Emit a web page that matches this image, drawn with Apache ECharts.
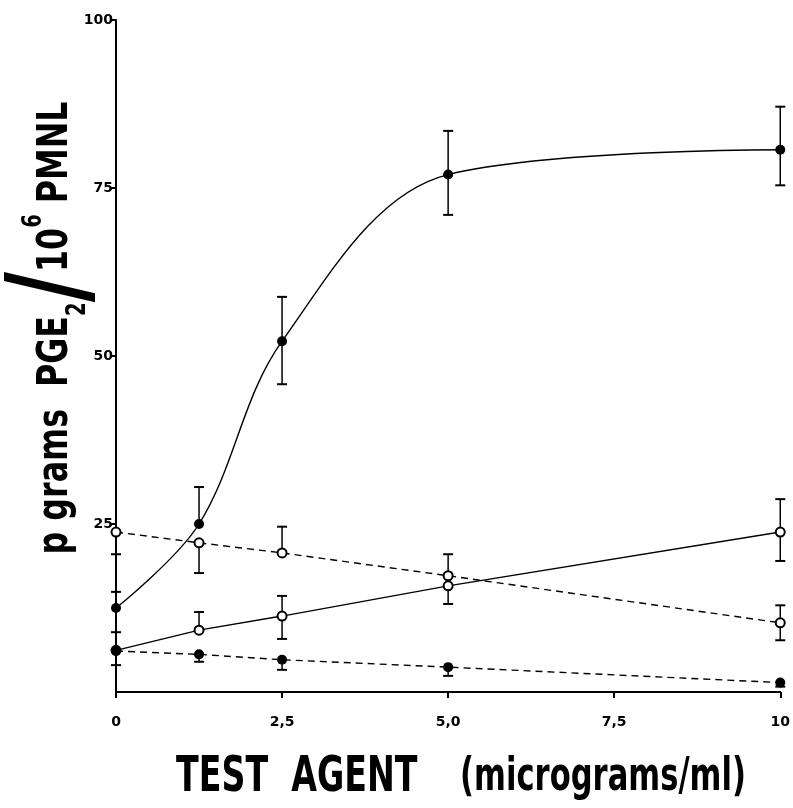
<!DOCTYPE html>
<html>
<head>
<meta charset="UTF-8">
<title>PGE2 vs test agent</title>
<script src="https://cdn.jsdelivr.net/npm/echarts@6.0.0/dist/echarts.min.js"></script>
<style>
  html, body { margin: 0; padding: 0; background: #fff; }
  #chart { width: 793px; height: 808px; }
</style>
</head>
<body>
<div id="chart"></div>
<script>
// concentrations (micrograms/ml)
const xValues = [0, 1.25, 2.5, 5, 10];
const xTickLabels = ['0', '2,5', '5,0', '7,5', '10'];

// filled circles, sigmoid curve
const curveA = [12.5, 25.0, 52.2, 77.0, 80.7];
const curveAHigh = [14.9, 30.5, 58.8, 83.5, 87.1];
const curveALow = [null, null, 45.8, 71.0, 75.4];

// open circles, solid line rising
const lineB = [6.2, 9.2, 11.3, 15.8, 23.8];
const lineBHigh = [8.9, 11.9, 14.3, null, 28.7];
const lineBLow = [4.0, null, 7.9, 13.1, 19.5];

// open circles, dashed line falling
const lineC = [23.8, 22.2, 20.7, 17.3, 10.3];
const lineCHigh = [null, null, 24.6, 20.5, 12.9];
const lineCLow = [20.5, 17.7, null, null, 7.7];

// filled circles, dashed line low
const lineD = [6.1, 5.6, 4.8, 3.7, 1.4];
const lineDHigh = [null, null, null, null, null];
const lineDLow = [null, 4.5, 3.3, 2.4, 0.8];

const labelFont = '"DejaVu Sans", sans-serif';
const nameFont = '"DejaVu Sans", sans-serif';

const chart = echarts.init(document.getElementById('chart'));

function pairs(vals) {
  return xValues.map((x, i) => [x, vals[i]]);
}

function lineSeries(vals, filled, dashed, smooth, z) {
  return {
    type: 'line',
    data: pairs(vals),
    smooth: smooth,
    symbol: 'circle',
    symbolSize: filled ? 10 : 9,
    itemStyle: {
      color: filled ? '#000' : '#fff',
      borderColor: '#000',
      borderWidth: filled ? 0 : 2
    },
    lineStyle: { color: '#000', width: 1.4, type: dashed ? [7, 5] : 'solid' },
    z: z
  };
}

function errorSeries(vals, lows, highs) {
  return {
    type: 'custom',
    data: pairs(vals),
    z: 2,
    renderItem: function (params, api) {
      const i = params.dataIndex;
      const x = xValues[i];
      const mid = api.coord([x, vals[i]]);
      const children = [];
      const cap = 5;
      [lows[i], highs[i]].forEach(function (end) {
        if (end == null) return;
        const p = api.coord([x, end]);
        children.push({
          type: 'line',
          shape: { x1: mid[0], y1: mid[1], x2: p[0], y2: p[1] },
          style: { stroke: '#000', lineWidth: 1.5 }
        });
        children.push({
          type: 'line',
          shape: { x1: p[0] - cap, y1: p[1], x2: p[0] + cap, y2: p[1] },
          style: { stroke: '#000', lineWidth: 2 }
        });
      });
      return { type: 'group', children: children };
    }
  };
}

const option = {
  animation: false,
  backgroundColor: '#fff',
  grid: { left: 116, right: 9, top: 20, bottom: 116 },
  xAxis: {
    type: 'value',
    min: 0,
    max: 10,
    interval: 2.5,
    splitLine: { show: false },
    axisLine: { lineStyle: { color: '#000', width: 2 } },
    axisTick: { show: true, length: 6, lineStyle: { color: '#000', width: 2 } },
    axisLabel: {
      color: '#000',
      fontFamily: labelFont,
      fontWeight: 'bold',
      fontSize: 14,
      margin: 23,
      formatter: function (v) { return xTickLabels[Math.round(v / 2.5)]; }
    }
  },
  yAxis: {
    type: 'value',
    min: 0,
    max: 100,
    interval: 25,
    splitLine: { show: false },
    axisLine: { show: true, lineStyle: { color: '#000', width: 2 } },
    axisTick: { show: true, length: 6, lineStyle: { color: '#000', width: 2 } },
    axisLabel: {
      color: '#000',
      fontFamily: labelFont,
      fontWeight: 'bold',
      fontSize: 14,
      margin: 3,
      showMinLabel: false
    }
  },
  graphic: [
    {
      type: 'text',
      x: 56,
      y: 328,
      rotation: Math.PI / 2,
      scaleX: 0.755,
      style: {
        text: '{t|p grams  PGE}{sub|2}{sl|/}{t|10}{sup|6}{t| PMNL}',
        align: 'center',
        verticalAlign: 'middle',
        rich: {
          t: { fontFamily: nameFont, fontWeight: 'bold', fontSize: 42, lineHeight: 70, verticalAlign: 'middle', fill: '#000' },
          sub: { fontFamily: nameFont, fontWeight: 'bold', fontSize: 26, lineHeight: 44, verticalAlign: 'bottom', fill: '#000' },
          sup: { fontFamily: nameFont, fontWeight: 'bold', fontSize: 26, lineHeight: 44, verticalAlign: 'top', fill: '#000' },
          sl: { fontFamily: nameFont, fontWeight: 'bold', fontSize: 110, lineHeight: 70, verticalAlign: 'middle', fill: '#000' }
        }
      }
    },
    {
      type: 'text',
      x: 461,
      y: 778,
      scaleX: 0.665,
      style: {
        text: '{a|TEST  AGENT}{b|    (micrograms/ml)}',
        align: 'center',
        verticalAlign: 'middle',
        rich: {
          a: { fontFamily: nameFont, fontWeight: 'bold', fontSize: 50, fill: '#000' },
          b: { fontFamily: nameFont, fontWeight: 'bold', fontSize: 46, fill: '#000' }
        }
      }
    }
  ],
  series: [
    lineSeries(curveA, true, false, 0.35, 3),
    lineSeries(lineB, false, false, false, 3),
    lineSeries(lineC, false, true, false, 3),
    lineSeries(lineD, true, true, false, 4),
    errorSeries(curveA, curveALow, curveAHigh),
    errorSeries(lineB, lineBLow, lineBHigh),
    errorSeries(lineC, lineCLow, lineCHigh),
    errorSeries(lineD, lineDLow, lineDHigh)
  ]
};

chart.setOption(option);
</script>
</body>
</html>
